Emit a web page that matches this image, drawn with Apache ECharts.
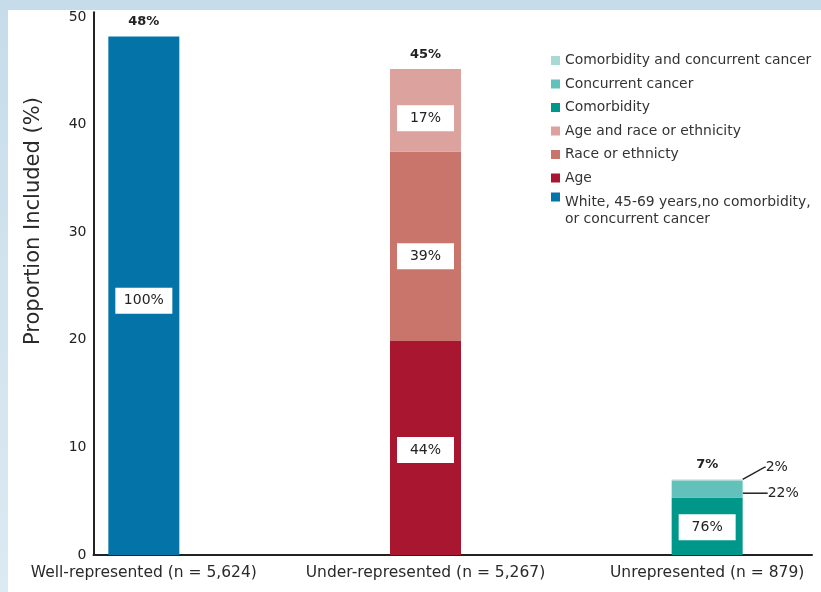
<!DOCTYPE html>
<html>
<head>
<meta charset="utf-8">
<script src="https://cdn.jsdelivr.net/npm/echarts@6/dist/echarts.min.js"></script>
<style>
  html, body { margin: 0; padding: 0; width: 821px; height: 592px; overflow: hidden;
    background: linear-gradient(#c6dcea, #dbeaf3); }
  #panel { position: absolute; left: 8px; top: 10px; right: 0; bottom: 0; background: #fff; }
  #chart { position: absolute; left: 3px; top: 10px; width: 845px; height: 582px; }
</style>
</head>
<body>
<div id="panel"></div>
<div id="chart"></div>
<script>
// Groups along the x axis
const categories = ['Well-represented (n = 5,624)', 'Under-represented (n = 5,267)', 'Unrepresented (n = 879)'];
// Proportion included (%) for each group: bar height
const totals = [48, 45, 7];
// Composition of each bar, as % of that bar (null = not part of the bar)
const whiteShare        = [100, null, null];
const ageShare          = [null, 44, null];
const raceShare         = [null, 39, null];
const ageRaceShare      = [null, 17, null];
const comorbidityShare  = [null, null, 76];
const cancerShare       = [null, null, 22];
const bothShare         = [null, null, 2];
// Y axis tick labels
const yTicks = [0, 10, 20, 30, 40, 50];

const FONT = 'DejaVu Sans';
const TXT = '#222';

const NAME_WHITE = 'White, 45-69 years,no comorbidity, or concurrent cancer';
const NAME_AGE = 'Age';
const NAME_RACE = 'Race or ethnicty';
const NAME_AGERACE = 'Age and race or ethnicity';
const NAME_COMORB = 'Comorbidity';
const NAME_CANCER = 'Concurrent cancer';
const NAME_BOTH = 'Comorbidity and concurrent cancer';

const boxLabel = {
  show: true,
  position: 'inside',
  backgroundColor: '#fff',
  padding: [6, 0],
  width: 57,
  align: 'center',
  color: TXT,
  fontFamily: FONT,
  fontSize: 14,
  lineHeight: 14
};

function segment(name, color, shares, label, extra) {
  return Object.assign({
    name: name,
    type: 'bar',
    stack: 'total',
    barWidth: 71,
    itemStyle: { color: color },
    label: Object.assign({
      formatter: p => shares[p.dataIndex] + '%'
    }, label),
    data: shares.map((s, i) => (s == null ? null : totals[i] * s / 100))
  }, extra || {});
}

const calloutLabel = {
  show: true,
  position: 'right',
  distance: 5,
  color: TXT,
  fontFamily: FONT,
  fontSize: 14
};
const calloutLine = { show: true, length2: 1, lineStyle: { color: '#222', width: 1.5 } };

const series = [
  segment(NAME_WHITE, '#0474a8', whiteShare, boxLabel),
  segment(NAME_AGE, '#a8162f', ageShare, boxLabel),
  segment(NAME_RACE, '#c9756b', raceShare, boxLabel),
  segment(NAME_AGERACE, '#dca39e', ageRaceShare, boxLabel),
  segment(NAME_COMORB, '#00978b', comorbidityShare, boxLabel),
  segment(NAME_CANCER, '#63c1bb', cancerShare, calloutLabel, { labelLine: calloutLine }),
  segment(NAME_BOTH, '#a8d9d5', bothShare, calloutLabel, { labelLine: calloutLine }),
  {
    // zero-height cap carrying the bar total above each stack
    name: 'Total',
    type: 'bar',
    stack: 'total',
    barWidth: 71,
    silent: true,
    itemStyle: { color: 'rgba(0,0,0,0)' },
    label: {
      show: true,
      position: 'top',
      distance: 8,
      formatter: p => totals[p.dataIndex] + '%',
      color: TXT,
      fontFamily: FONT,
      fontWeight: 'bold',
      fontSize: 13
    },
    data: totals.map(() => 0)
  }
];
// label nudges per series: [dx, dy]
const labelNudge = [[0, 5], [0, 2], [0, 10], [0, 8], [0, 1], [20, 4], [18, -13], [0, 0]];

const chart = echarts.init(document.getElementById('chart'), null, { renderer: 'canvas' });
chart.setOption({
  animation: false,
  textStyle: { fontFamily: FONT },
  grid: [
    // bar placement grid: one band per group
    { left: 0, right: 0, top: 0, bottom: 37 },
    // visible axes frame
    { left: 90.5, right: 36, top: 0, bottom: 37 }
  ],
  xAxis: [
    {
      gridIndex: 0,
      type: 'category',
      data: categories,
      axisLine: { show: false },
      axisTick: { show: false },
      axisLabel: { interval: 0, color: '#2a2a2a', fontFamily: FONT, fontSize: 15.5, margin: 10 }
    },
    {
      gridIndex: 1,
      type: 'value',
      min: 0,
      max: 1,
      axisLine: { show: true, lineStyle: { color: '#222', width: 2 } },
      axisTick: { show: false },
      axisLabel: { show: false },
      splitLine: { show: false }
    }
  ],
  yAxis: [
    { gridIndex: 0, type: 'value', min: 0, max: 50.45, show: false },
    {
      gridIndex: 1,
      type: 'value',
      min: 0,
      max: 50.45,
      name: 'Proportion Included (%)',
      nameLocation: 'middle',
      nameGap: 49,
      nameTextStyle: { color: '#2a2a2a', fontFamily: FONT, fontSize: 21, padding: [0, 0, 0, 125] },
      axisLine: { show: true, lineStyle: { color: '#222', width: 2 } },
      axisTick: { show: false },
      splitLine: { show: false },
      axisLabel: { customValues: yTicks, color: TXT, fontFamily: FONT, fontSize: 14, margin: 7 }
    }
  ],
  legend: [
    {
      orient: 'vertical',
      left: 548,
      top: 43.5,
      padding: 0,
      icon: 'rect',
      itemWidth: 9,
      itemHeight: 9,
      itemGap: 9.5,
      selectedMode: false,
      textStyle: { color: '#333', fontFamily: FONT, fontSize: 13.9, lineHeight: 14 },
      data: [NAME_BOTH, NAME_CANCER, NAME_COMORB, NAME_AGERACE, NAME_RACE, NAME_AGE]
    },
    {
      orient: 'vertical',
      left: 548,
      top: 165,
      padding: 0,
      icon: 'rect',
      itemWidth: 9,
      itemHeight: 9,
      selectedMode: false,
      // leading spacer line drops the two text lines just below the swatch
      formatter: n => '{s| }\n{t|' + n.replace(', or ', ',}\n{t|or ') + '}',
      textStyle: {
        color: '#333', fontFamily: FONT, fontSize: 13.9,
        rich: {
          s: { lineHeight: 27, fontSize: 10 },
          t: { lineHeight: 17, fontSize: 13.9, color: '#333', fontFamily: FONT }
        }
      },
      data: [NAME_WHITE]
    }
  ],
  labelLayout: function (p) {
    const n = labelNudge[p.seriesIndex] || [0, 0];
    return { dx: n[0], dy: n[1] };
  },
  series: series
});
</script>
</body>
</html>
